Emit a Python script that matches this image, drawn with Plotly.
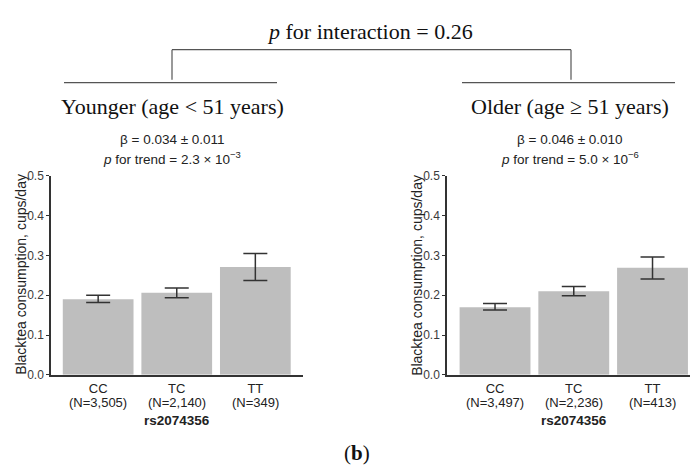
import plotly.graph_objects as go

W, H = 690, 475

genotypes = ["CC", "TC", "TT"]
young_n = ["3,505", "2,140", "349"]
old_n = ["3,497", "2,236", "413"]

young_mean = [0.190, 0.206, 0.271]
young_upper = [0.200, 0.218, 0.305]
young_lower = [0.182, 0.194, 0.237]

old_mean = [0.170, 0.210, 0.269]
old_upper = [0.179, 0.222, 0.296]
old_lower = [0.163, 0.199, 0.241]

y_ticks = [0.0, 0.1, 0.2, 0.3, 0.4, 0.5]
snp_name = "rs2074356"
y_title = "Blacktea consumption, cups/day"

BAR = "#BEBEBE"
INK = "#333333"
SANS = "Liberation Sans, Arial, sans-serif"
SERIF = "Liberation Serif, Times New Roman, serif"


def px_x(p):
    return p / W


def px_y(p):
    return 1 - p / H


def bar_trace(means, upper, lower, xa, ya):
    return go.Bar(
        x=genotypes, y=means, xaxis=xa, yaxis=ya, width=0.9,
        marker=dict(color=BAR, line=dict(width=0)),
        error_y=dict(type="data", symmetric=False,
                     array=[u - m for u, m in zip(upper, means)],
                     arrayminus=[m - l for m, l in zip(means, lower)],
                     color=INK, thickness=1.5, width=12),
        showlegend=False, hoverinfo="skip",
    )


fig = go.Figure()
fig.add_trace(bar_trace(young_mean, young_upper, young_lower, "x", "y"))
fig.add_trace(bar_trace(old_mean, old_upper, old_lower, "x2", "y2"))

ydom = [px_y(379), px_y(174)]
common_y = dict(range=[0, 0.5], domain=ydom, tickvals=y_ticks,
                ticktext=[f"{v:.1f}" for v in y_ticks],
                showline=True, linecolor=INK, linewidth=1.5,
                ticks="outside", ticklen=3, tickcolor=INK, tickwidth=1,
                tickfont=dict(family=SANS, size=12, color="#3a3a3a"),
                showgrid=False, zeroline=False, fixedrange=True)
common_x = dict(type="category", showline=True, linecolor=INK, linewidth=1.5,
                ticks="", showgrid=False, zeroline=False, ticklabelstandoff=1,
                tickfont=dict(family=SANS, size=13, color="#222222"))

fig.update_layout(
    width=W, height=H, margin=dict(l=0, r=0, t=0, b=0),
    paper_bgcolor="white", plot_bgcolor="white", bargap=0.1,
    xaxis=dict(common_x, domain=[px_x(51), px_x(302.5)], range=[-0.6, 2.6],
               tickvals=genotypes, ticktext=genotypes, anchor="y"),
    yaxis=dict(common_y, anchor="x"),
    xaxis2=dict(common_x, domain=[px_x(447), 1.0], range=[-0.61, 2.476],
                tickvals=genotypes, ticktext=genotypes, anchor="y2"),
    yaxis2=dict(common_y, anchor="x2"),
)

line = dict(color="#555555", width=1.2)
shapes = [
    dict(type="line", xref="paper", yref="paper", x0=px_x(172), x1=px_x(571), y0=px_y(44), y1=px_y(44), line=line),
    dict(type="line", xref="paper", yref="paper", x0=px_x(172), x1=px_x(172), y0=px_y(44), y1=px_y(75), line=line),
    dict(type="line", xref="paper", yref="paper", x0=px_x(571), x1=px_x(571), y0=px_y(44), y1=px_y(75), line=line),
    dict(type="line", xref="paper", yref="paper", x0=px_x(64), x1=px_x(277), y0=px_y(78), y1=px_y(78), line=line),
    dict(type="line", xref="paper", yref="paper", x0=px_x(462), x1=px_x(675), y0=px_y(78), y1=px_y(78), line=line),
]
fig.update_layout(shapes=shapes)


def ann(text, x, y, size, family, color="#111111", angle=0):
    fig.add_annotation(text=text, x=px_x(x), y=px_y(y), xref="paper", yref="paper",
                       showarrow=False, xanchor="center", yanchor="middle",
                       textangle=angle, font=dict(family=family, size=size, color=color))


# sample-size line under each genotype tick label, placed on the category axis
for xref, ns in (("x", young_n), ("x2", old_n)):
    for g, n in zip(genotypes, ns):
        fig.add_annotation(text=f"(N={n})", x=g, xref=xref, y=px_y(399), yref="paper",
                           showarrow=False, xanchor="center", yanchor="top", borderpad=0,
                           font=dict(family=SANS, size=13, color="#222222"))

ann("<i>p</i> for interaction = 0.26", 370, 25, 22, SERIF)
ann("Younger (age &lt; 51 years)", 172, 103, 22, SERIF)
ann("Older (age ≥ 51 years)", 570, 103, 22, SERIF)
ann("β = 0.034 ± 0.011", 172, 137, 13.5, SANS, "#222222")
ann("<i>p</i> for trend = 2.3 × 10<sup>−3</sup>", 172, 156, 13.5, SANS, "#222222")
ann("β = 0.046 ± 0.010", 570, 137, 13.5, SANS, "#222222")
ann("<i>p</i> for trend = 5.0 × 10<sup>−6</sup>", 570, 156, 13.5, SANS, "#222222")
ann(y_title, 21, 276, 14, SANS, "#222222", -90)
ann(y_title, 417, 276, 14, SANS, "#222222", -90)
ann(f"<b>{snp_name}</b>", 177, 426, 13.5, SANS, "#222222")
ann(f"<b>{snp_name}</b>", 574, 426, 13.5, SANS, "#222222")
ann("(<b>b</b>)", 357, 460, 21, SERIF)

fig.write_html("out.html")
